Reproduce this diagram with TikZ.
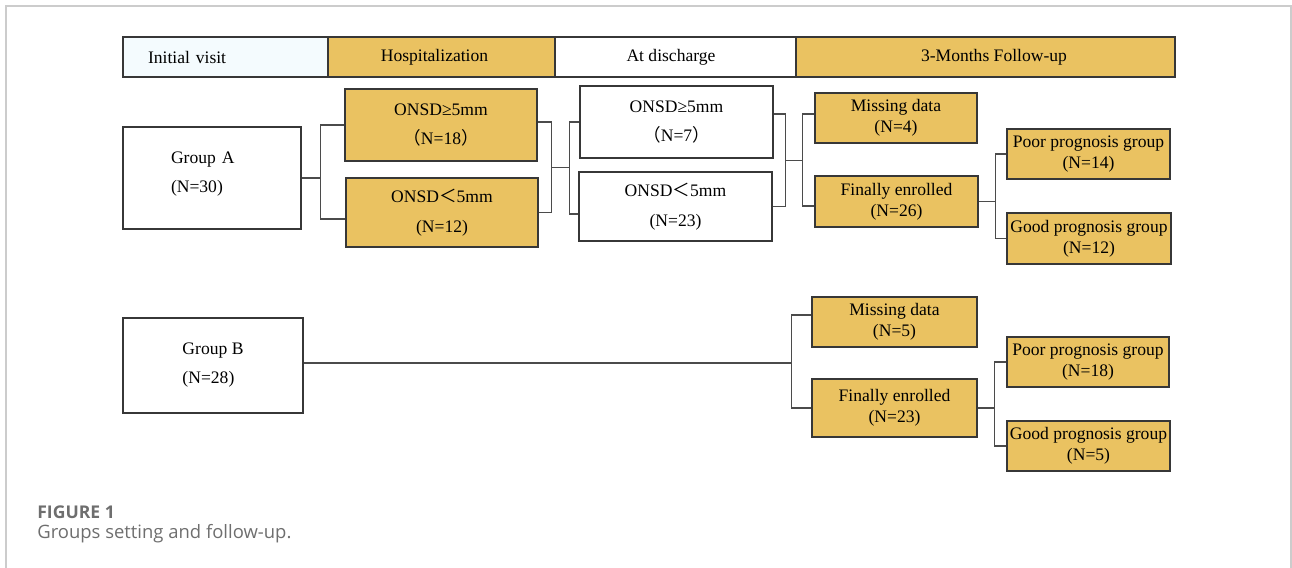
\documentclass[tikz,border=0pt]{standalone}
\usepackage{fontspec}
\setmainfont{Liberation Serif}
\newfontfamily\capfont{Open Sans}
\newfontfamily\cjk{Noto Sans CJK SC}
\usetikzlibrary{calc}

\definecolor{ochre}{RGB}{234,194,97}
\definecolor{iceblue}{RGB}{244,251,254}
\definecolor{boxline}{RGB}{55,55,55}
\definecolor{capgray}{RGB}{110,110,110}

\tikzset{
	box/.style={draw=boxline, line width=0.8pt, inner sep=1pt, align=center, font=\fontsize{10}{12}\selectfont},
	goldbox/.style={box, fill=ochre},
	tallbox/.style={font=\fontsize{10}{17}\selectfont},
	groupbox/.style={box, fill=white, align=left, font=\fontsize{10}{16.5}\selectfont},
	headbox/.style={draw=boxline, line width=0.8pt, minimum height=0.8cm, font=\fontsize{10}{12}\selectfont},
	link/.style={draw=boxline!90, line width=0.6pt},
}

\begin{document}
\begin{tikzpicture}[x=0.02cm, y=-0.02cm]
	\useasboundingbox (0,0) rectangle (1292,568);
	\draw[line width=1pt, black!20] (6,568) -- (6,6) -- (1291,6) -- (1291,568);

	% phases
	\node[headbox, fill=iceblue, minimum width=4.1cm, text width=3.1cm, inner xsep=0.5cm, align=left] (hinit) at (225.5,57) {Initial visit};
	\node[headbox, fill=ochre, minimum width=4.54cm] (hhosp) at (441.5,57) {Hospitalization\hspace*{0.28cm}};
	\node[headbox, fill=white, minimum width=4.82cm] (hdis) at (675.5,57) {At discharge\hspace*{0.18cm}};
	\node[headbox, fill=ochre, minimum width=7.58cm] (hfol) at (985.5,57) {\hspace*{0.34cm}3-Months Follow-up};

	% group A
	\node[groupbox, minimum width=3.56cm, minimum height=2.04cm, text width=1.64cm, inner xsep=0.96cm] (ga) at (212,178) {Group A\\(N=30)\\[-0.35cm]\mbox{}};
	\node[goldbox, tallbox, minimum width=3.84cm, minimum height=1.44cm] (h1) at (441,125) {ONSD≥5mm\\{\cjk （}N=18{\cjk ）}};
	\node[goldbox, tallbox, minimum width=3.84cm, minimum height=1.38cm] (h2) at (442,212.5) {ONSD{\cjk ＜}5mm\\(N=12)};
	\node[box, tallbox, minimum width=3.86cm, minimum height=1.44cm] (d1) at (676.5,122) {ONSD≥5mm\\{\cjk （}N=7{\cjk ）}};
	\node[box, tallbox, minimum width=3.86cm, minimum height=1.38cm] (d2) at (675.5,206.5) {ONSD{\cjk ＜}5mm\\(N=23)};
	\node[goldbox, minimum width=3.24cm, minimum height=1cm] (ma) at (896,118) {Missing data\\(N=4)};
	\node[goldbox, minimum width=3.26cm, minimum height=1.02cm] (fa) at (896.5,201.5) {Finally enrolled\\(N=26)};
	\node[goldbox, minimum width=3.26cm, minimum height=1cm] (pa) at (1088.5,154) {Poor prognosis group\\(N=14)};
	\node[goldbox, minimum width=3.28cm, minimum height=1.02cm] (ka) at (1089,238.5) {Good prognosis group\\(N=12)};

	% group B
	\node[groupbox, minimum width=3.6cm, minimum height=1.9cm] (gb) at (213,365.5) {Group B\\(N=28)};
	\node[goldbox, minimum width=3.3cm, minimum height=1cm] (mb) at (894.5,322) {Missing data\\(N=5)};
	\node[goldbox, minimum width=3.3cm, minimum height=1.16cm] (fb) at (894.5,408) {Finally enrolled\\(N=23)};
	\node[goldbox, minimum width=3.24cm, minimum height=1cm] (pb) at (1088,362) {Poor prognosis group\\(N=18)};
	\node[goldbox, minimum width=3.26cm, minimum height=1cm] (kb) at (1088.5,446) {Good prognosis group\\(N=5)};

	% connectors A
	\draw[link] (ga.east) -- ++(19,0) coordinate (ja);
	\draw[link] (h1.west) -| (ja) |- ([yshift=-0.13cm]h2.west);
	\draw[link] ([yshift=0.06cm]h1.east) -- ++(14,0) coordinate (jb) |- (h2.east);
	\draw[link] ($(jb)!0.5!(jb |- h2.east)$) -- ++(18,0) coordinate (jc);
	\draw[link] (d1.west) -| (jc) |- ([yshift=-0.15cm]d2.west);
	\draw[link] ([yshift=0.16cm]d1.east) -- ++(12,0) coordinate (jd) |- (d2.east);
	\draw[link] ($(jd)!0.5!(jd |- d2.east)$) -- ++(17,0) coordinate (je);
	\draw[link] ([yshift=0.08cm]ma.west) -| (je) |- ([yshift=-0.09cm]fa.west);
	\draw[link] (fa.east) -- ++(17,0) coordinate (jf);
	\draw[link] (pa.west) -| (jf) |- (ka.west);

	% connectors B
	\draw[link] ([yshift=0.05cm]gb.east) -- ++(488,0) coordinate (jg);
	\draw[link] ([yshift=0.14cm]mb.west) -| (jg) |- (fb.west);
	\draw[link] (fb.east) -- ++(17,0) coordinate (jh);
	\draw[link] (pb.west) -| (jh) |- (kb.west);

	% caption
	\node[anchor=west, inner sep=0pt, text=capgray, font=\capfont\bfseries\fontsize{10}{12}\selectfont] (fig) at (37,512) {FIGURE 1};
	\node[anchor=west, inner sep=0pt, text=capgray, font=\capfont\fontsize{10.5}{12}\selectfont] (cap) at (37,534) {Groups setting and follow-up.};
\end{tikzpicture}
\end{document}
